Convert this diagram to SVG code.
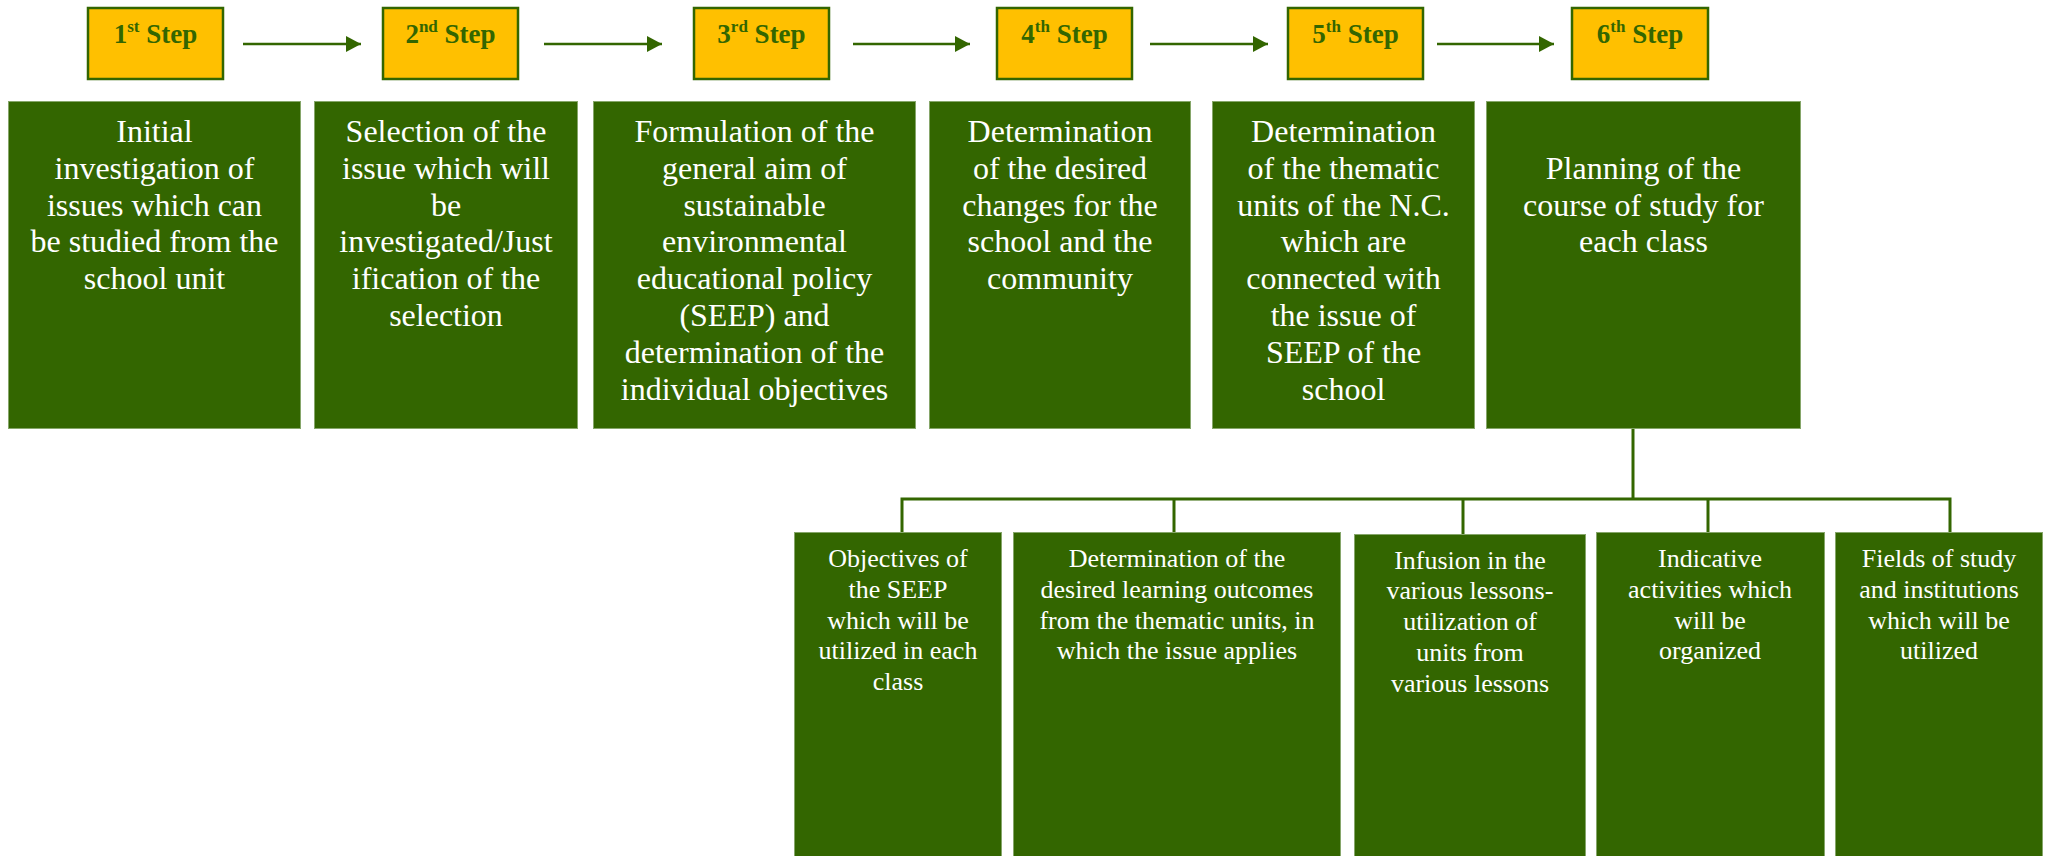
<svg xmlns="http://www.w3.org/2000/svg" width="2051" height="856" viewBox="0 0 2051 856">
<defs>
<style>
.step{fill:#FFC000;stroke:#336600;stroke-width:2.5}
.stxt{font-family:"Liberation Serif","Times New Roman",serif;font-weight:bold;font-size:27px;fill:#336600;text-anchor:middle}
.box{fill:#336600;stroke:#86a66a;stroke-width:1}
.btxt{font-family:"Liberation Serif","Times New Roman",serif;font-size:32px;fill:#ffffff;text-anchor:middle}
.ctxt{font-family:"Liberation Serif","Times New Roman",serif;font-size:26px;fill:#ffffff;text-anchor:middle}
.arr{stroke:#336600;stroke-width:2.5;fill:none}
.con{stroke:#336600;stroke-width:3;fill:none}
</style>
<marker id="ah" markerUnits="userSpaceOnUse" markerWidth="16" markerHeight="16" refX="15" refY="8" orient="auto" viewBox="0 0 16 16">
<path d="M0,0 L15,8 L0,16 z" fill="#336600"/>
</marker>
</defs>
<rect width="2051" height="856" fill="#ffffff"/>

<g id="connectors">
<line class="arr" x1="243" y1="44" x2="361" y2="44" marker-end="url(#ah)"/>
<line class="arr" x1="544" y1="44" x2="662" y2="44" marker-end="url(#ah)"/>
<line class="arr" x1="853" y1="44" x2="970" y2="44" marker-end="url(#ah)"/>
<line class="arr" x1="1150" y1="44" x2="1268" y2="44" marker-end="url(#ah)"/>
<line class="arr" x1="1437" y1="44" x2="1554" y2="44" marker-end="url(#ah)"/>
<path class="con" d="M1633,429 V499"/>
<path class="con" d="M902,532 V499 H1950 V532"/>
<path class="con" d="M1174,499 V532"/>
<path class="con" d="M1463,499 V534"/>
<path class="con" d="M1708,499 V532"/>
</g>

<g id="step1"><rect class="step" x="88" y="8" width="135" height="71"/><text class="stxt" x="155.5" y="43">1<tspan font-size="17" dy="-11">st</tspan><tspan dy="11"> Step</tspan></text></g>
<g id="step2"><rect class="step" x="383" y="8" width="135" height="71"/><text class="stxt" x="450.5" y="43">2<tspan font-size="17" dy="-11">nd</tspan><tspan dy="11"> Step</tspan></text></g>
<g id="step3"><rect class="step" x="694" y="8" width="135" height="71"/><text class="stxt" x="761.5" y="43">3<tspan font-size="17" dy="-11">rd</tspan><tspan dy="11"> Step</tspan></text></g>
<g id="step4"><rect class="step" x="997" y="8" width="135" height="71"/><text class="stxt" x="1064.5" y="43">4<tspan font-size="17" dy="-11">th</tspan><tspan dy="11"> Step</tspan></text></g>
<g id="step5"><rect class="step" x="1288" y="8" width="135" height="71"/><text class="stxt" x="1355.5" y="43">5<tspan font-size="17" dy="-11">th</tspan><tspan dy="11"> Step</tspan></text></g>
<g id="step6"><rect class="step" x="1572" y="8" width="136" height="71"/><text class="stxt" x="1640" y="43">6<tspan font-size="17" dy="-11">th</tspan><tspan dy="11"> Step</tspan></text></g>

<g id="box1"><rect class="box" x="8.5" y="101.5" width="292" height="327"/>
<text class="btxt" x="154.5" y="142">Initial<tspan x="154.5" dy="36.8">investigation of</tspan><tspan x="154.5" dy="36.8">issues which can</tspan><tspan x="154.5" dy="36.8">be studied from the</tspan><tspan x="154.5" dy="36.8">school unit</tspan></text></g>
<g id="box2"><rect class="box" x="314.5" y="101.5" width="263" height="327"/>
<text class="btxt" x="446" y="142">Selection of the<tspan x="446" dy="36.8">issue which will</tspan><tspan x="446" dy="36.8">be</tspan><tspan x="446" dy="36.8">investigated/Just</tspan><tspan x="446" dy="36.8">ification of the</tspan><tspan x="446" dy="36.8">selection</tspan></text></g>
<g id="box3"><rect class="box" x="593.5" y="101.5" width="322" height="327"/>
<text class="btxt" x="754.5" y="142">Formulation of the<tspan x="754.5" dy="36.8">general aim of</tspan><tspan x="754.5" dy="36.8">sustainable</tspan><tspan x="754.5" dy="36.8">environmental</tspan><tspan x="754.5" dy="36.8">educational policy</tspan><tspan x="754.5" dy="36.8">(SEEP) and</tspan><tspan x="754.5" dy="36.8">determination of the</tspan><tspan x="754.5" dy="36.8">individual objectives</tspan></text></g>
<g id="box4"><rect class="box" x="929.5" y="101.5" width="261" height="327"/>
<text class="btxt" x="1060" y="142">Determination<tspan x="1060" dy="36.8">of the desired</tspan><tspan x="1060" dy="36.8">changes for the</tspan><tspan x="1060" dy="36.8">school and the</tspan><tspan x="1060" dy="36.8">community</tspan></text></g>
<g id="box5"><rect class="box" x="1212.5" y="101.5" width="262" height="327"/>
<text class="btxt" x="1343.5" y="142">Determination<tspan x="1343.5" dy="36.8">of the thematic</tspan><tspan x="1343.5" dy="36.8">units of the N.C.</tspan><tspan x="1343.5" dy="36.8">which are</tspan><tspan x="1343.5" dy="36.8">connected with</tspan><tspan x="1343.5" dy="36.8">the issue of</tspan><tspan x="1343.5" dy="36.8">SEEP of the</tspan><tspan x="1343.5" dy="36.8">school</tspan></text></g>
<g id="box6"><rect class="box" x="1486.5" y="101.5" width="314" height="327"/>
<text class="btxt" x="1643.5" y="178.8">Planning of the<tspan x="1643.5" dy="36.8">course of study for</tspan><tspan x="1643.5" dy="36.8">each class</tspan></text></g>

<g id="child1"><rect class="box" x="794.5" y="532.5" width="207" height="330"/>
<text class="ctxt" x="898" y="567">Objectives of<tspan x="898" dy="30.8">the SEEP</tspan><tspan x="898" dy="30.8">which will be</tspan><tspan x="898" dy="30.8">utilized in each</tspan><tspan x="898" dy="30.8">class</tspan></text></g>
<g id="child2"><rect class="box" x="1013.5" y="532.5" width="327" height="330"/>
<text class="ctxt" x="1177" y="567">Determination of the<tspan x="1177" dy="30.8">desired learning outcomes</tspan><tspan x="1177" dy="30.8">from the thematic units, in</tspan><tspan x="1177" dy="30.8">which the issue applies</tspan></text></g>
<g id="child3"><rect class="box" x="1354.5" y="534.5" width="231" height="330"/>
<text class="ctxt" x="1470" y="568.5">Infusion in the<tspan x="1470" dy="30.8">various lessons-</tspan><tspan x="1470" dy="30.8">utilization of</tspan><tspan x="1470" dy="30.8">units from</tspan><tspan x="1470" dy="30.8">various lessons</tspan></text></g>
<g id="child4"><rect class="box" x="1596.5" y="532.5" width="228" height="330"/>
<text class="ctxt" x="1710" y="567">Indicative<tspan x="1710" dy="30.8">activities which</tspan><tspan x="1710" dy="30.8">will be</tspan><tspan x="1710" dy="30.8">organized</tspan></text></g>
<g id="child5"><rect class="box" x="1835.5" y="532.5" width="207" height="330"/>
<text class="ctxt" x="1939" y="567">Fields of study<tspan x="1939" dy="30.8">and institutions</tspan><tspan x="1939" dy="30.8">which will be</tspan><tspan x="1939" dy="30.8">utilized</tspan></text></g>
</svg>
